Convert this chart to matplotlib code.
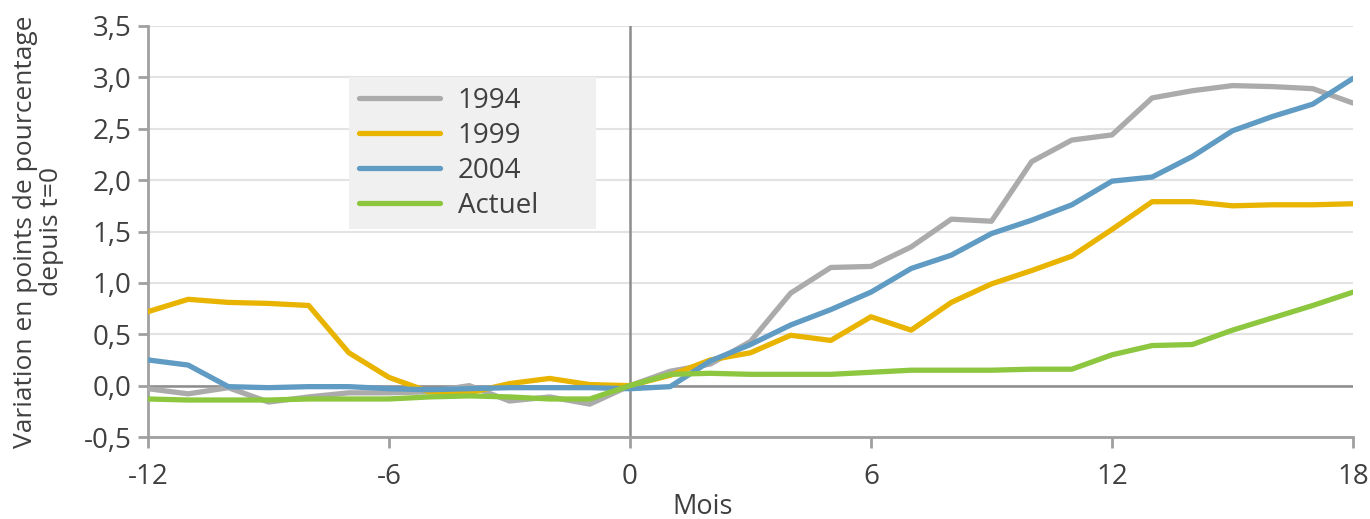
import matplotlib
matplotlib.use("Agg")
import matplotlib.pyplot as plt
from matplotlib.ticker import FuncFormatter

plt.rcParams['font.family'] = ['Open Sans', 'DejaVu Sans']
plt.rcParams['axes.unicode_minus'] = False

# mois autour de t=0
mois = list(range(-12, 19))

serie_1994 = [-0.03, -0.08, -0.02, -0.16, -0.11, -0.07, -0.07, -0.06, 0.00, -0.15, -0.11, -0.18, 0.00,
              0.14, 0.21, 0.43, 0.90, 1.15, 1.16, 1.35, 1.62, 1.60, 2.18, 2.39, 2.44,
              2.80, 2.87, 2.92, 2.91, 2.89, 2.75]
serie_1999 = [0.72, 0.84, 0.81, 0.80, 0.78, 0.32, 0.08, -0.06, -0.07, 0.02, 0.07, 0.01, 0.00,
              0.10, 0.25, 0.32, 0.49, 0.44, 0.67, 0.54, 0.81, 0.99, 1.12, 1.26, 1.52,
              1.79, 1.79, 1.75, 1.76, 1.76, 1.77]
serie_2004 = [0.25, 0.20, -0.01, -0.02, -0.01, -0.01, -0.03, -0.04, -0.03, -0.02, -0.02, -0.02, -0.03,
              -0.01, 0.24, 0.40, 0.59, 0.74, 0.91, 1.14, 1.27, 1.48, 1.61, 1.76, 1.99,
              2.03, 2.23, 2.48, 2.62, 2.74, 2.99]
serie_actuel = [-0.13, -0.14, -0.14, -0.14, -0.13, -0.13, -0.13, -0.11, -0.10, -0.11, -0.13, -0.13, 0.00,
                0.11, 0.12, 0.11, 0.11, 0.11, 0.13, 0.15, 0.15, 0.15, 0.16, 0.16, 0.30,
                0.39, 0.40, 0.54, 0.66, 0.78, 0.91]

noms = ["1994", "1999", "2004", "Actuel"]
couleurs = ["#ABABAB", "#E8B400", "#5F9BC2", "#8DC63F"]
series = [serie_1994, serie_1999, serie_2004, serie_actuel]

texte = "#404040"
gris_axe = "#A0A0A0"
fs = 20

fig = plt.figure(figsize=(13.7, 5.19), dpi=100)
ax = fig.add_axes([148 / 1370, 1 - 437 / 519, 1205 / 1370, 411 / 519])

for nom, coul, vals in zip(noms, couleurs, series):
    ax.plot(mois, vals, color=coul, lw=3.8, label=nom, solid_capstyle="round", zorder=3)

ax.set_xlim(-12, 18)
ax.set_ylim(-0.5, 3.5)
ax.set_xticks([-12, -6, 0, 6, 12, 18])
ax.set_yticks([-0.5, 0, 0.5, 1.0, 1.5, 2.0, 2.5, 3.0, 3.5])
ax.yaxis.set_major_formatter(FuncFormatter(lambda v, p: f"{v:.1f}".replace(".", ",")))

# grille et lignes de référence
ax.grid(axis="y", color="#E3E3E3", lw=1.5, zorder=0)
ax.axhline(0, color="#8C8C8C", lw=1.8, zorder=2)
ax.axvline(0, color="#8C8C8C", lw=1.8, zorder=2)

for s in ["top", "right"]:
    ax.spines[s].set_visible(False)
for s in ["left", "bottom"]:
    ax.spines[s].set_color(gris_axe)
    ax.spines[s].set_linewidth(2)

ax.tick_params(axis="both", colors=gris_axe, width=2, labelsize=fs, labelcolor=texte)
ax.tick_params(axis="x", length=8, pad=11)
ax.tick_params(axis="y", length=7, pad=5)

ax.set_xlabel("Mois", fontsize=19.5, color=texte)
ax.xaxis.set_label_coords(0.46, -0.137)
ax.set_ylabel("Variation en points de pourcentage\ndepuis t=0", fontsize=19,
              color=texte, linespacing=1.05, multialignment="center")
ax.yaxis.set_label_coords(-0.07, 0.5)

leg = ax.legend(loc="upper left", bbox_to_anchor=(0.167, 0.496, 0.205, 0.38),
                mode="expand", borderaxespad=0,
                fontsize=fs, frameon=True, fancybox=False, handlelength=2.9,
                handletextpad=0.65, labelspacing=0.25, borderpad=0.35)
leg.get_frame().set_facecolor("#F0F0F0")
leg.get_frame().set_edgecolor("none")
leg.get_frame().set_alpha(1)
for t in leg.get_texts():
    t.set_color(texte)

fig.savefig("out.png", dpi=100)
